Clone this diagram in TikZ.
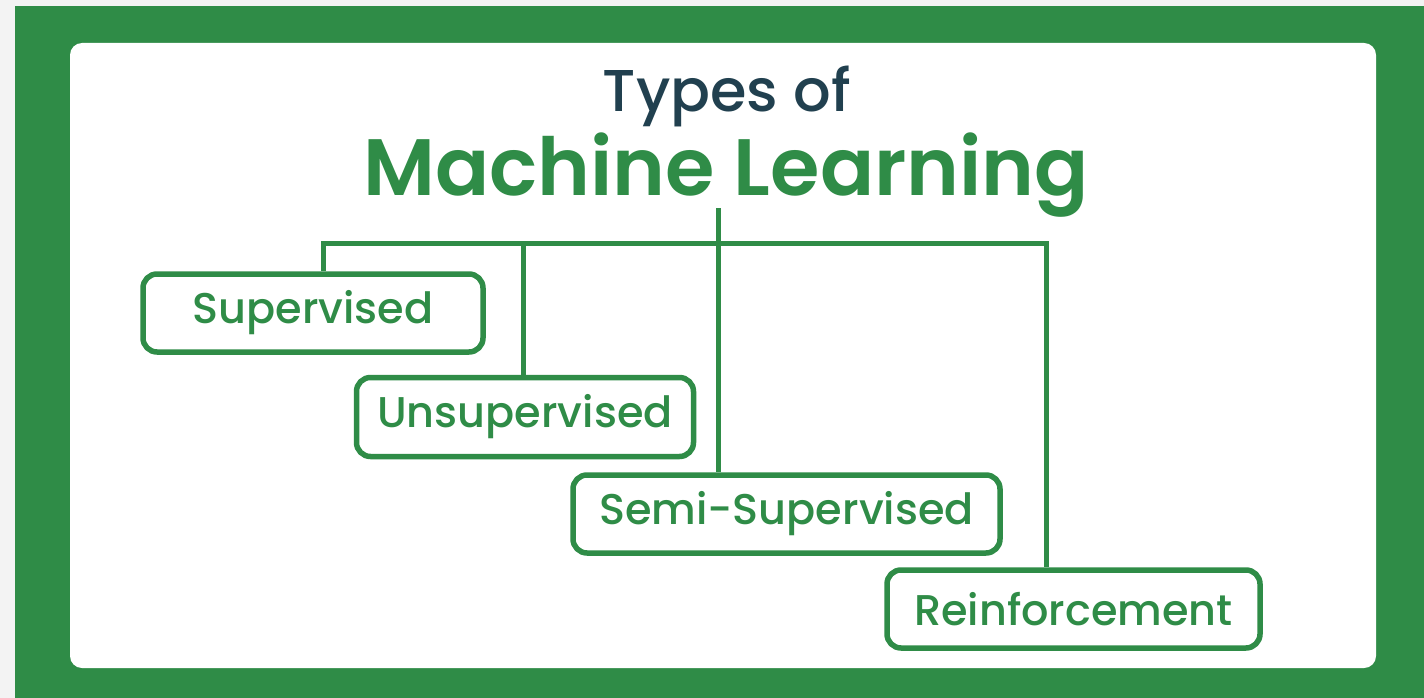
\documentclass[tikz,border=0pt]{standalone}
\usepackage{fontspec}
\setmainfont{Poppins}
\IfFontExistsTF{Poppins Medium}
  {\newfontfamily\labelfont{Poppins Medium}}
  {\newfontfamily\labelfont[FakeBold=2]{Poppins}}
\IfFontExistsTF{Poppins SemiBold}
  {\newfontfamily\headfont{Poppins SemiBold}}
  {\newfontfamily\headfont{Poppins}[UprightFont=*-Bold]}
\definecolor{mlgreen}{HTML}{2F8C47}
\definecolor{mldark}{HTML}{21404F}
\definecolor{paper}{HTML}{F3F3F3}
\tikzset{
  typebox/.style={draw=mlgreen, line width=5.5pt, rounded corners=14pt, fill=white,
    text=mlgreen, font=\labelfont\fontsize{43}{46}\selectfont, inner sep=0pt},
  link/.style={draw=mlgreen, line width=5pt}
}
\begin{document}
\begin{tikzpicture}[x=1pt,y=-1pt]
                \useasboundingbox (0,0) rectangle (1424,698);
                \fill[paper] (0,0) rectangle (1424,698);
                \fill[mlgreen] (15,6) rectangle (1424,698);
                \fill[white, rounded corners=12pt] (70,43) rectangle (1376,668);
                \node[anchor=base, text=mldark, font=\labelfont\fontsize{59}{64}\selectfont] (types) at (727,112) {Types of};
                \node[anchor=base, text=mlgreen, font=\headfont\fontsize{80}{86}\selectfont] (title) at (726,195) {Machine Learning};
                \coordinate (top) at (718,208);
                \coordinate (bar) at (718,243);
                \node[typebox, minimum width=340pt, minimum height=78pt] (sup) at (313,313) {Supervised};
                \node[typebox, minimum width=337pt, minimum height=79pt] (unsup) at (525,417) {Unsupervised};
                \node[typebox, minimum width=427pt, minimum height=78pt] (semi) at (786.5,514) {Semi-Supervised};
                \node[typebox, minimum width=373pt, minimum height=78pt] (rein) at (1073.5,609) {Reinforcement};
                \coordinate (barL) at (323,243);
                \coordinate (barR) at (1046,243);
                \draw[link] (top) -- (semi.north -| top);
                \draw[link] (sup.north -| barL) -- (barL) -- (barR) -- (rein.north -| barR);
                \draw[link] (unsup.north -| 523,0) -- (523,243);
\end{tikzpicture}
\end{document}
